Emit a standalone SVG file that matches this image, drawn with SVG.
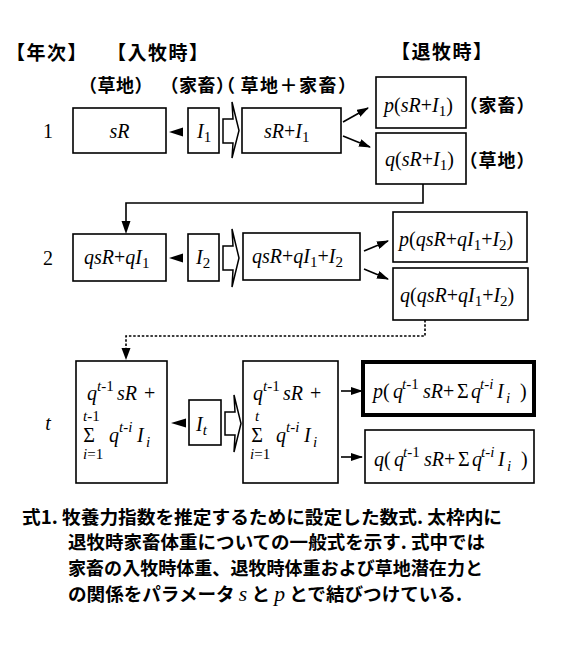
<svg xmlns="http://www.w3.org/2000/svg" width="567" height="651" viewBox="0 0 567 651">
<defs>
<style>
.box{fill:#fff;stroke:#000;stroke-width:1.6}
.bold{fill:#fff;stroke:#000;stroke-width:4}
.jp{font-family:'Noto Sans CJK JP','Noto Sans CJK SC',sans-serif;font-weight:700;fill:#000}
.halt{font-feature-settings:"halt" 1}
.m{font-family:'Liberation Serif','Times New Roman',serif;font-style:italic;fill:#000;font-size:20px}
.n{font-style:normal}
.sb{font-size:15px}
.sp{font-size:15px}
.ln{fill:none;stroke:#000;stroke-width:1.6}
.dot{fill:none;stroke:#000;stroke-width:1.6;stroke-dasharray:2.5,1.8}
.blk{fill:#fff;stroke:#000;stroke-width:1.5;stroke-linejoin:miter}
</style>
<marker id="ah" viewBox="0 0 12 8" refX="11" refY="4" markerWidth="12" markerHeight="8" markerUnits="userSpaceOnUse" orient="auto">
<path d="M0,0 L12,4 L0,8 Z" fill="#000"/>
</marker>
</defs>
<rect width="567" height="651" fill="#fff"/>

<g id="headers" class="jp">
<text x="6" y="60" font-size="19" letter-spacing="1.5">【年次】</text>
<text x="107" y="60" font-size="19" letter-spacing="1.5">【入牧時】</text>
<text x="391" y="59" font-size="19" letter-spacing="1.5">【退牧時】</text>
<text x="79" y="92" font-size="18" letter-spacing="0.5">（草地）</text>
<text x="160.5" y="92" font-size="18" letter-spacing="0.5">（家畜<tspan class="halt">）</tspan></text>
<text x="226" y="92" font-size="18" letter-spacing="1.5"><tspan class="halt">（</tspan><tspan dx="4">草地＋家畜）</tspan></text>
</g>

<g id="row-labels">
<text x="48" y="138" class="m n" text-anchor="middle" font-size="19">1</text>
<text x="48" y="265" class="m n" text-anchor="middle" font-size="19">2</text>
<text x="48" y="430" class="m" text-anchor="middle" font-size="25">t</text>
</g>

<g id="connectors">
<polygon points="169,132 183,127.5 183,136.5" fill="#000"/>
<polygon points="169,258 183,253.5 183,262.5" fill="#000"/>
<polygon points="171,423 186,418.5 186,427.5" fill="#000"/>
<polygon class="blk" points="223,119 233,119 232,102 239,130.5 232,158 233,143 223,143"/>
<polygon class="blk" points="223,246 233,246 232,229 239,258 232,287 233,270 223,270"/>
<polygon class="blk" points="225,412 235,412 234,395 241,423.5 234,452 235,435 225,435"/>
<line class="ln" x1="343" y1="122" x2="368" y2="108" marker-end="url(#ah)"/>
<line class="ln" x1="343" y1="136" x2="370" y2="147" marker-end="url(#ah)"/>
<line class="ln" x1="364" y1="251" x2="388" y2="241" marker-end="url(#ah)"/>
<line class="ln" x1="364" y1="269" x2="388" y2="279" marker-end="url(#ah)"/>
<line class="ln" x1="341" y1="391" x2="362" y2="391" marker-end="url(#ah)"/>
<line class="ln" x1="341" y1="457" x2="362" y2="457" marker-end="url(#ah)"/>
<polyline class="ln" points="423,184 423,203 126,203 126,226"/>
<polygon points="126,234 121.5,221 130.5,221" fill="#000"/>
<polyline class="dot" points="425,320 425,336 126,336 126,350"/>
<polygon points="126,360 121.5,348 130.5,348" fill="#000"/>
</g>

<g id="r1-grass">
<rect class="box" x="73" y="108" width="93" height="45"/>
<text class="m" x="119.5" y="138" text-anchor="middle">sR</text>
</g>
<g id="r1-cattle">
<rect class="box" x="188" y="108" width="31" height="45"/>
<text class="m" x="197" y="138">I<tspan class="n sb" dy="4">1</tspan></text>
</g>
<g id="r1-total">
<rect class="box" x="242" y="108" width="99" height="45"/>
<text class="m" x="264" y="138">sR<tspan class="n">+</tspan>I<tspan class="n sb" dy="4">1</tspan></text>
</g>
<g id="r1-out-cattle">
<rect class="box" x="376" y="77" width="90" height="51"/>
<text class="m" x="384" y="112">p<tspan class="n">(</tspan>sR<tspan class="n">+</tspan>I<tspan class="n sb" dy="4">1</tspan><tspan class="n" dy="-4">)</tspan></text>
<text class="jp" x="459.5" y="112" font-size="18" letter-spacing="1">（家畜）</text>
</g>
<g id="r1-out-grass">
<rect class="box" x="376" y="133" width="90" height="51"/>
<text class="m" x="385" y="166">q<tspan class="n">(</tspan>sR<tspan class="n">+</tspan>I<tspan class="n sb" dy="4">1</tspan><tspan class="n" dy="-4">)</tspan></text>
<text class="jp" x="459.5" y="167" font-size="18" letter-spacing="1">（草地）</text>
</g>

<g id="r2-grass">
<rect class="box" x="73" y="234" width="93" height="47"/>
<text class="m" x="84" y="264">qsR<tspan class="n">+</tspan>qI<tspan class="n sb" dy="4">1</tspan></text>
</g>
<g id="r2-cattle">
<rect class="box" x="188" y="234" width="31" height="47"/>
<text class="m" x="196" y="264">I<tspan class="n sb" dy="4">2</tspan></text>
</g>
<g id="r2-total">
<rect class="box" x="243" y="233" width="117" height="47"/>
<text class="m" x="252" y="263">qsR<tspan class="n">+</tspan>qI<tspan class="n sb" dy="4">1</tspan><tspan class="n" dy="-4">+</tspan>I<tspan class="n sb" dy="4">2</tspan></text>
</g>
<g id="r2-out-cattle">
<rect class="box" x="393" y="212" width="134" height="50"/>
<text class="m" x="399" y="246">p<tspan class="n">(</tspan>qsR<tspan class="n">+</tspan>qI<tspan class="n sb" dy="4">1</tspan><tspan class="n" dy="-4">+</tspan>I<tspan class="n sb" dy="4">2</tspan><tspan class="n" dy="-4">)</tspan></text>
</g>
<g id="r2-out-grass">
<rect class="box" x="393" y="268" width="135" height="52"/>
<text class="m" x="400" y="302">q<tspan class="n">(</tspan>qsR<tspan class="n">+</tspan>qI<tspan class="n sb" dy="4">1</tspan><tspan class="n" dy="-4">+</tspan>I<tspan class="n sb" dy="4">2</tspan><tspan class="n" dy="-4">)</tspan></text>
</g>

<g id="rt-grass">
<rect class="box" x="76" y="361" width="91" height="122"/>
<text class="m" x="87" y="400" font-size="22">q</text>
<text class="m sp" x="97" y="391">t<tspan class="n">-1</tspan></text>
<text class="m" x="117" y="400" font-size="22">sR</text>
<text class="m n" x="144" y="400" font-size="22">+</text>
<text class="m sp" x="83" y="421">t<tspan class="n">-1</tspan></text>
<text class="m n" x="89" y="442" font-size="15" text-anchor="middle">Σ</text>
<text class="m sp" x="83" y="459">i<tspan class="n">=1</tspan></text>
<text class="m" x="109" y="442" font-size="22">q</text>
<text class="m sp" x="119" y="432">t<tspan class="n">-</tspan>i</text>
<text class="m" x="137" y="442" font-size="22">I</text>
<text class="m sb" x="146" y="447">i</text>
</g>
<g id="rt-cattle">
<rect class="box" x="189" y="400" width="32" height="45"/>
<text class="m" x="196" y="431" font-size="22">I<tspan class="sb" dy="4">t</tspan></text>
</g>
<g id="rt-total">
<rect class="box" x="243" y="361" width="95" height="122"/>
<text class="m" x="253" y="400" font-size="22">q</text>
<text class="m sp" x="263" y="391">t<tspan class="n">-1</tspan></text>
<text class="m" x="283" y="400" font-size="22">sR</text>
<text class="m n" x="310" y="400" font-size="22">+</text>
<text class="m sp" x="257" y="421" text-anchor="middle">t</text>
<text class="m n" x="257" y="442" font-size="15" text-anchor="middle">Σ</text>
<text class="m sp" x="250" y="459">i<tspan class="n">=1</tspan></text>
<text class="m" x="276" y="442" font-size="22">q</text>
<text class="m sp" x="286" y="432">t<tspan class="n">-</tspan>i</text>
<text class="m" x="304" y="442" font-size="22">I</text>
<text class="m sb" x="313" y="447">i</text>
</g>
<g id="rt-out-cattle">
<rect class="bold" x="363" y="362" width="171" height="53"/>
<text class="m" x="373" y="398" font-size="21">p<tspan class="n">(</tspan></text>
<text class="m" x="393" y="398" font-size="21">q</text>
<text class="m sp" x="402" y="389">t<tspan class="n">-1</tspan></text>
<text class="m" x="423" y="398" font-size="21">sR<tspan class="n">+</tspan></text>
<text class="m n" x="457" y="398" font-size="18">Σ</text>
<text class="m" x="471" y="398" font-size="21">q</text>
<text class="m sp" x="480" y="389">t<tspan class="n">-</tspan>i</text>
<text class="m" x="497" y="398" font-size="21">I</text>
<text class="m sb" x="506" y="403">i</text>
<text class="m n" x="520" y="398" font-size="21">)</text>
</g>
<g id="rt-out-grass">
<rect class="box" x="365" y="430" width="169" height="53"/>
<text class="m" x="374" y="466" font-size="21">q<tspan class="n">(</tspan></text>
<text class="m" x="394" y="466" font-size="21">q</text>
<text class="m sp" x="403" y="457">t<tspan class="n">-1</tspan></text>
<text class="m" x="424" y="466" font-size="21">sR<tspan class="n">+</tspan></text>
<text class="m n" x="458" y="466" font-size="18">Σ</text>
<text class="m" x="472" y="466" font-size="21">q</text>
<text class="m sp" x="481" y="457">t<tspan class="n">-</tspan>i</text>
<text class="m" x="498" y="466" font-size="21">I</text>
<text class="m sb" x="507" y="471">i</text>
<text class="m n" x="521" y="466" font-size="21">)</text>
</g>

<g id="caption" class="jp" font-size="18">
<text x="22" y="524" textLength="480" lengthAdjust="spacingAndGlyphs">式1. 牧養力指数を推定するために設定した数式. 太枠内に</text>
<text x="68" y="549" textLength="417" lengthAdjust="spacingAndGlyphs">退牧時家畜体重についての一般式を示す. 式中では</text>
<text x="68" y="575" textLength="415" lengthAdjust="spacingAndGlyphs">家畜の入牧時体重、退牧時体重および草地潜在力と</text>
<text x="68" y="601" textLength="394" lengthAdjust="spacingAndGlyphs">の関係をパラメータ <tspan font-family="'Liberation Serif',serif" font-style="italic" font-weight="400" font-size="21">s</tspan> と <tspan font-family="'Liberation Serif',serif" font-style="italic" font-weight="400" font-size="21">p</tspan> とで結びつけている.</text>
</g>
</svg>
